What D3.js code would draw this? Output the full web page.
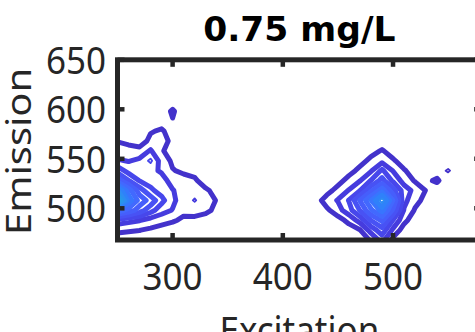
<!DOCTYPE html>
<html>
<head>
<meta charset="utf-8">
<script src="https://cdn.jsdelivr.net/npm/d3@7"></script>
<style>
  html, body { margin: 0; padding: 0; background: #fff; overflow: hidden; }
</style>
</head>
<body>
<svg id="chart" width="475" height="332"></svg>
<script>
// Excitation (columns) and emission (rows) sampling of the EEM grid, nm
const excitation = [250, 260, 270, 280, 290, 300, 310, 320, 330, 340, 350, 360,
  370, 380, 390, 400, 410, 420, 430, 440, 450, 460, 470, 480, 490, 500, 510,
  520, 530, 540, 550, 560, 570, 580];
const emission = [468, 478, 488, 498, 508, 518, 528, 538, 548, 558, 568, 578,
  588, 598, 608, 618, 628, 638, 648];

// Fluorescence intensity, one row per emission wavelength (low to high)
const intensity = [
  [0.7,0.6,0.5,0.4,0.3,0.2,0.2,0.1,0.1,0.1, 0,0,0,0,0,0,0,0,0,0,0, 0.2,0.5,1.1,2.4,0.7,0.2, 0,0,0,0,0,0,0],
  [1.13,1.08,1.02,0.85,0.6,0.4,0.3,0.3,0.2,0.1, 0,0,0,0,0,0,0,0,0,0, 0.2,0.5,0.95,2.4,3.6,1.8,0.5,0.2, 0,0,0,0,0,0],
  [2.6,2.3,2.05,1.6,1.4,1.15,0.8,0.75,0.6,0.3,0.1, 0,0,0,0,0,0,0,0, 0.2,0.6,1.3,2.4,4.05,5.2,2.95,1.3,0.4,0.1, 0,0,0,0,0],
  [6.6,5.6,4.5,3.4,2.4,1.95,1.3,1.4,1.2,0.8,0.2, 0,0,0,0,0,0,0, 0.2,0.8,1.6,2.6,4.05,5.8,7.3,4.8,1.9,0.9,0.3, 0,0,0,0,0],
  [11.3,7.6,5.6,4.6,3.3,2.2,1.5,2.1,1.4,0.95,0.3, 0,0,0,0,0,0, 0.1,0.5,1.5,2.06,3.05,5.05,6.95,9.6,5.95,2.3,1.3,0.7,0.2, 0,0,0,0],
  [9.05,6.5,4.5,3.2,2.6,2.05,1.6,1.6,1.1,0.8,0.2, 0,0,0,0,0,0,0, 0.3,0.6,1.4,2.05,2.98,4.8,6.5,4.4,2.5,1.7,0.95,0.4,0.1, 0,0,0],
  [5.5,4.05,2.95,2.6,2.3,1.7,1.3,1.1,0.7,0.4,0.1, 0,0,0,0,0,0,0,0, 0.2,0.6,1.4,1.95,3.05,4.35,2.8,1.6,0.9,0.8,1.15,0.3, 0,0,0],
  [3.6,2.6,2.4,2.2,1.9,1.05,0.85,0.8,0.3,0.1,0, 0,0,0,0,0,0,0,0,0, 0.2,0.6,1.3,1.9,3.2,1.95,1.1,0.5,0.5,0.5,1.15,0.3,0,0],
  [2.1,1.95,2.2,3.25,1.5,0.85,0.5,0.3,0.2,0,0, 0,0,0,0,0,0,0,0,0,0, 0.2,0.6,1.3,1.7,1.15,0.5,0.2,0.1,0.3,0.3,0.1,0,0],
  [1.5,1.3,1.4,2.1,1.1,0.6,0.3, 0,0,0,0,0,0,0,0,0,0,0,0,0,0,0, 0.2,0.6,1.1,0.5,0.2, 0,0,0,0,0,0,0],
  [0.95,0.8,0.4,1.3,1.3,0.8,0.2, 0,0,0,0,0,0,0,0,0,0,0,0,0,0,0,0, 0.1,0.3,0.1, 0,0,0,0,0,0,0,0],
  [0.4,0.35,0.3,0.9,1.15,0.5,0.2, 0,0,0,0,0,0,0,0,0,0,0,0,0,0,0,0,0,0,0,0,0,0,0,0,0,0,0],
  [0.2,0.2,0.2,0.4,0.5,0.93,0.3, 0,0,0,0,0,0,0,0,0,0,0,0,0,0,0,0,0,0,0,0,0,0,0,0,0,0,0],
  [0.1,0.1,0.1,0.2,0.4,1.15,0.3, 0,0,0,0,0,0,0,0,0,0,0,0,0,0,0,0,0,0,0,0,0,0,0,0,0,0,0],
  [0,0,0,0.1,0.2,0.4,0.2, 0,0,0,0,0,0,0,0,0,0,0,0,0,0,0,0,0,0,0,0,0,0,0,0,0,0,0],
  [0,0,0,0,0,0,0,0,0,0,0,0,0,0,0,0,0,0,0,0,0,0,0,0,0,0,0,0,0,0,0,0,0,0],
  [0,0,0,0,0,0,0,0,0,0,0,0,0,0,0,0,0,0,0,0,0,0,0,0,0,0,0,0,0,0,0,0,0,0],
  [0,0,0,0,0,0,0,0,0,0,0,0,0,0,0,0,0,0,0,0,0,0,0,0,0,0,0,0,0,0,0,0,0,0],
  [0,0,0,0,0,0,0,0,0,0,0,0,0,0,0,0,0,0,0,0,0,0,0,0,0,0,0,0,0,0,0,0,0,0]
];

// Contour levels and their colours (low end of the parula map)
const levels = [1, 2, 3, 4, 5, 6, 7, 8, 9, 10, 11];
const levelColors = ["#4332cb", "#463cde", "#4747eb", "#4852f4", "#465efb",
  "#4269fe", "#3875fe", "#2f81fa", "#2d8cf3", "#2796eb", "#23a0e5"];

const xDomain = [250, 580];
const yDomain = [468, 650];
const xTicks = [300, 400, 500];
const yTicks = [500, 550, 600, 650];
const titleText = "0.75 mg/L";
const xLabel = "Excitation";
const yLabel = "Emission";

const axisColor = "#262626";
const svg = d3.select("#chart");

const x = d3.scaleLinear().domain(xDomain).range([117.5, 481.2]);
const y = d3.scaleLinear().domain(yDomain).range([240, 59.8]);

// clip region = plotting box
svg.append("defs").append("clipPath").attr("id", "plotClip")
  .append("rect")
  .attr("x", x(xDomain[0])).attr("y", y(yDomain[1]))
  .attr("width", x(xDomain[1]) - x(xDomain[0]))
  .attr("height", y(yDomain[0]) - y(yDomain[1]));

// contour lines from the intensity grid
const nx = excitation.length, ny = emission.length;
const dEx = excitation[1] - excitation[0];
const dEm = emission[1] - emission[0];
const contours = d3.contours().size([nx, ny]).thresholds(levels)(intensity.flat());

const gridToScreen = d3.geoTransform({
  point(px, py) {
    this.stream.point(
      x(excitation[0] + (px - 0.5) * dEx),
      y(emission[0] + (py - 0.5) * dEm)
    );
  }
});
const path = d3.geoPath(gridToScreen);

const gContours = svg.append("g").attr("clip-path", "url(#plotClip)");
contours.forEach((c, i) => {
  c.coordinates.forEach(poly => {
    const feature = { type: "Polygon", coordinates: poly };
    const b = path.bounds(feature);
    const size = Math.max(b[1][0] - b[0][0], b[1][1] - b[0][1]);
    // very small closed rings are drawn with a fine line so they read as rings
    const sw = size < 5.5 ? 1.8 : 5;
    gContours.append("path")
      .attr("d", path(feature))
      .attr("fill", "none")
      .attr("stroke", levelColors[i])
      .attr("stroke-width", sw)
      .attr("stroke-linejoin", "round")
      .attr("stroke-linecap", "round");
  });
});

// axes box
svg.append("rect")
  .attr("x", x(xDomain[0])).attr("y", y(yDomain[1]))
  .attr("width", x(xDomain[1]) - x(xDomain[0]))
  .attr("height", y(yDomain[0]) - y(yDomain[1]))
  .attr("fill", "none").attr("stroke", axisColor).attr("stroke-width", 5);

const tickFont = "'Noto Sans', 'Open Sans', sans-serif";
function styleAxis(g) {
  g.select(".domain").remove();
  g.selectAll(".tick line").attr("stroke", axisColor).attr("stroke-width", 4.5);
  g.selectAll(".tick text")
    .attr("fill", axisColor)
    .style("font-family", tickFont)
    .style("font-size", "35px");
}

const gBottom = svg.append("g").attr("transform", `translate(0,${y(yDomain[0])})`)
  .call(d3.axisBottom(x).tickValues(xTicks).tickSizeInner(-7).tickSizeOuter(0).offset(0))
  .call(styleAxis);
gBottom.selectAll(".tick text").attr("y", 45.2).attr("dy", 0)
  .attr("transform", "scale(1,1.1)");

const gLeft = svg.append("g").attr("transform", `translate(${x(xDomain[0])},0)`)
  .call(d3.axisLeft(y).tickValues(yTicks).tickSizeInner(-7).tickSizeOuter(0).tickPadding(11.5).offset(0))
  .call(styleAxis);
gLeft.selectAll(".tick text").attr("dy", "0.357em")
  .attr("transform", "scale(1,1.1)");

svg.append("g").attr("transform", `translate(0,${y(yDomain[1])})`)
  .call(d3.axisTop(x).tickValues(xTicks).tickSizeInner(-7).tickSizeOuter(0).tickFormat(() => "").offset(0))
  .call(styleAxis);

svg.append("g").attr("transform", `translate(${x(xDomain[1])},0)`)
  .call(d3.axisRight(y).tickValues(yTicks).tickSizeInner(-7).tickSizeOuter(0).tickFormat(() => "").offset(0))
  .call(styleAxis);

const cx = (x(xDomain[0]) + x(xDomain[1])) / 2;
const cy = (y(yDomain[0]) + y(yDomain[1])) / 2;

// title
svg.append("text")
  .attr("x", cx).attr("y", 41.3)
  .attr("text-anchor", "middle")
  .style("font-family", "'DejaVu Sans', sans-serif")
  .style("font-weight", "bold")
  .style("font-size", "34.5px")
  .attr("fill", "#000")
  .text(titleText);

// axis labels
svg.append("text")
  .attr("transform", `translate(${cx},344.2) scale(1,1.1)`)
  .attr("text-anchor", "middle")
  .style("font-family", tickFont)
  .style("font-size", "35px")
  .attr("fill", axisColor)
  .text(xLabel);

svg.append("text")
  .attr("transform", `translate(31,${cy + 1.5}) scale(1,1.14) rotate(-90)`)
  .attr("text-anchor", "middle")
  .style("font-family", tickFont)
  .style("font-size", "35px")
  .attr("fill", axisColor)
  .text(yLabel);
</script>
</body>
</html>
